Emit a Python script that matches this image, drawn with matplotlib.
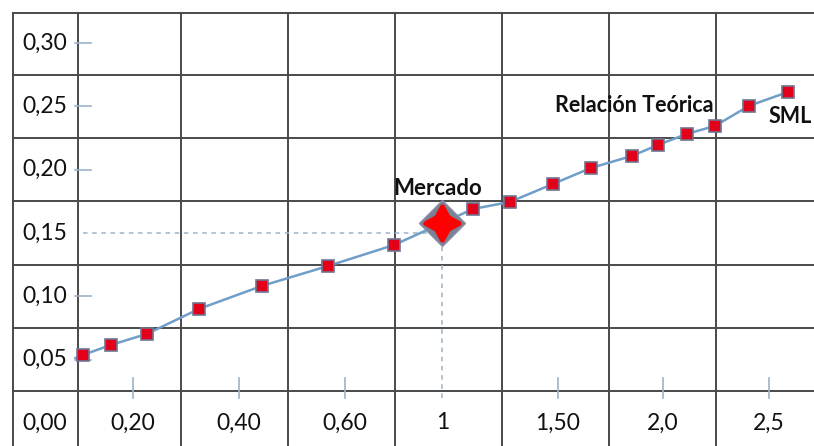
import matplotlib
matplotlib.use("Agg")
import matplotlib.pyplot as plt
import numpy as np

# ---- data (x in column units of the schematic axis, y = expected return) ----
sml_x = [0.084, 0.346, 0.682, 1.168, 1.757, 2.374, 2.991, 3.729, 4.075, 4.477,
         4.832, 5.215, 5.458, 5.729, 5.991, 6.308, 6.673]
sml_y = [0.0537, 0.0616, 0.0703, 0.0900, 0.1082, 0.1239, 0.1405, 0.1689, 0.1745,
         0.1887, 0.2013, 0.2108, 0.2195, 0.2282, 0.2345, 0.2503, 0.2613]
market_x = 3.439
market_y = 0.158
market_ref_y = 0.15

y_ticks = [0.05, 0.10, 0.15, 0.20, 0.25, 0.30]
y_labels = ["0,05", "0,10", "0,15", "0,20", "0,25", "0,30"]
x_tick_pos = [-0.271, 0.551, 1.542, 2.533, 3.449, 4.523, 5.505, 6.495]
x_labels = ["0,00", "0,20", "0,40", "0,60", "1", "1,50", "2,0", "2,5"]

grid_x = [-0.57, 0.04, 1, 2, 3, 4, 5, 6]
grid_y = [0.025, 0.075, 0.125, 0.175, 0.225, 0.275, 0.324]

plt.rcParams['font.family'] = ['Lato', 'DejaVu Sans']

fig = plt.figure(figsize=(8.14, 4.46), dpi=100)
ax = fig.add_axes([0, 0, 1, 1])
ax.set_xlim(-0.6916, 6.916)
ax.set_ylim(-0.0182, 0.3339)
ax.axis("off")

grid_col = "#4a4a4a"
for gx in grid_x:
    ax.plot([gx, gx], [-0.0182, grid_y[-1]], color=grid_col, lw=1.4, zorder=1)
for gy in grid_y:
    ax.plot([grid_x[0], 6.916], [gy, gy], color=grid_col, lw=1.4, zorder=1)

tick_col = "#9db4c8"
lab_fs = 16.5
# y tick marks and labels
for yv, lab in zip(y_ticks, y_labels):
    if yv != market_ref_y:
        ax.plot([0.01, 0.16], [yv, yv], color=tick_col, lw=1.2, zorder=2)
    ax.text(x_tick_pos[0], yv, lab, ha="center", va="center", fontsize=lab_fs, color="#111111")
ax.text(x_tick_pos[0], 0.0, x_labels[0], ha="center", va="center", fontsize=lab_fs, color="#111111")

# x tick marks and labels
for xv, lab in zip(x_tick_pos[1:], x_labels[1:]):
    if lab != "1":
        ax.plot([xv, xv], [0.0195, 0.0355], color=tick_col, lw=1.2, zorder=2)
    ax.text(xv, 0.0, lab, ha="center", va="center", fontsize=lab_fs, color="#111111")

# dashed reference lines to the market portfolio
ax.plot([0.08, market_x], [market_ref_y, market_ref_y], color=tick_col, lw=1.1,
        ls=(0, (3, 3)), zorder=2)
ax.plot([market_x, market_x], [0.0195, market_y], color=tick_col, lw=1.1,
        ls=(0, (3, 3)), zorder=2)

# SML line and points
line_x = [sml_x[0] - 0.07] + sml_x
line_y = [sml_y[0] - 0.0025] + sml_y
ax.plot(line_x, line_y, color="#6f9ec8", lw=1.8, zorder=3)
ax.plot(sml_x, sml_y, ls="none", marker="s", markersize=8,
        markerfacecolor="#e3001b", markeredgecolor="#707590", markeredgewidth=1.2, zorder=4)

# market portfolio marker
ax.plot([market_x], [market_y], marker="D", markersize=23, markerfacecolor="#7b8096",
        markeredgecolor="#8a8fa3", zorder=5)
ax.plot([market_x], [market_y], marker=(4, 1, 0), markersize=26, color="#ff0000",
        markeredgecolor="#ff0000", markeredgewidth=2.5, zorder=6)

# annotations
ax.text(3.40, 0.180, "Mercado", ha="center", va="baseline", fontsize=16,
        fontweight="bold", color="#111111")
ax.text(5.235, 0.2455, "Relación Teórica", ha="center", va="baseline", fontsize=15.5,
        fontweight="bold", color="#111111")
ax.text(6.495, 0.2368, "SML", ha="left", va="baseline", fontsize=15.5,
        fontweight="bold", color="#111111")

fig.savefig("out.png", dpi=100)
